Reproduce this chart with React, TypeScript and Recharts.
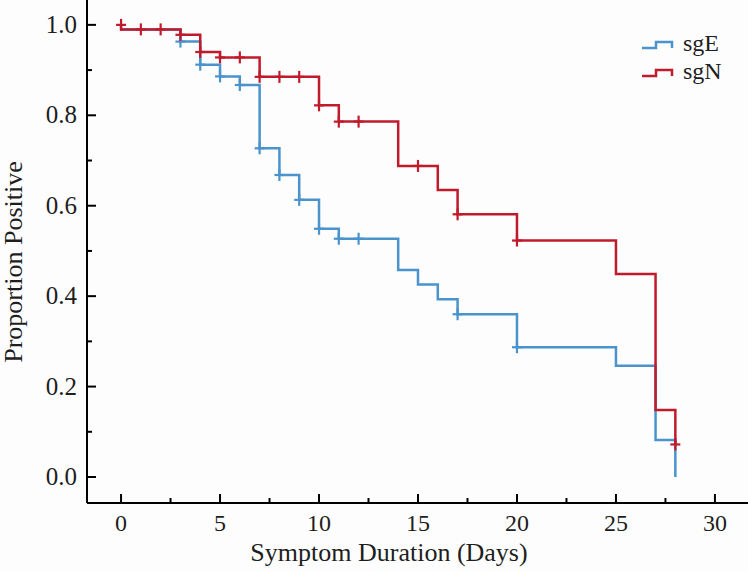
import React from 'react';
import { ComposedChart, Line, Scatter, XAxis, YAxis, Customized } from 'recharts';

const FONT = 'Liberation Serif, Times New Roman, serif';
const BLUE = '#4a93cc';
const RED = '#c01b2c';
const TEXT = '#1e1e1e';

// Kaplan–Meier step curves (time in days, proportion positive)
const sgETimes = [0, 3, 4, 5, 6, 7, 8, 9, 10, 11, 14, 15, 16, 17, 20, 25, 27, 28];
const sgEValues = [0.99, 0.963, 0.912, 0.886, 0.867, 0.727, 0.668, 0.613, 0.549, 0.527, 0.458, 0.426, 0.393, 0.36, 0.287, 0.246, 0.082, 0.0];
const sgNTimes = [0, 0, 3, 4, 5, 7, 10, 11, 14, 16, 17, 20, 25, 27, 28];
const sgNValues = [1.0, 0.99, 0.978, 0.94, 0.928, 0.885, 0.822, 0.786, 0.688, 0.635, 0.581, 0.523, 0.449, 0.148, 0.072];

// Censor marks
const sgECensorTimes = [3, 4, 5, 6, 7, 8, 9, 10, 11, 12, 17, 20];
const sgECensorValues = [0.963, 0.912, 0.886, 0.867, 0.727, 0.668, 0.613, 0.549, 0.527, 0.527, 0.36, 0.287];
const sgNCensorTimes = [0, 1, 2, 3, 4, 5, 6, 7, 8, 9, 10, 11, 12, 15, 17, 20, 28];
const sgNCensorValues = [1.0, 0.99, 0.99, 0.978, 0.94, 0.928, 0.928, 0.885, 0.885, 0.885, 0.822, 0.786, 0.786, 0.688, 0.581, 0.523, 0.072];

const xMajorTicks = [0, 5, 10, 15, 20, 25, 30];
const xMinorTicks = [2.5, 7.5, 12.5, 17.5, 22.5, 27.5];
const yMajorTicks = [0, 0.2, 0.4, 0.6, 0.8, 1.0];
const yMinorTicks = [0.1, 0.3, 0.5, 0.7, 0.9];

const seriesNames = ['sgE', 'sgN'];
const xTitle = 'Symptom Duration (Days)';
const yTitle = 'Proportion Positive';

const zip = (xs: number[], ys: number[]) => xs.map((x, i) => ({ x, y: ys[i] }));
const sgE = zip(sgETimes, sgEValues);
const sgN = zip(sgNTimes, sgNValues);
const sgECensor = zip(sgECensorTimes, sgECensorValues);
const sgNCensor = zip(sgNCensorTimes, sgNCensorValues);

const xTicks = [...xMajorTicks, ...xMinorTicks].sort((a, b) => a - b);
const yTicks = [...yMajorTicks, ...yMinorTicks].sort((a, b) => a - b);

const XTick = (props: any) => {
  const { x, y, payload } = props;
  const v = payload.value;
  const major = xMajorTicks.includes(v);
  return (
    <g>
      <line x1={x} x2={x} y1={y} y2={y - (major ? 9 : 5)} stroke="#000" strokeWidth={2} />
      {major && (
        <text x={x} y={y + 28} textAnchor="middle" style={{ fontFamily: FONT }} fontSize={24} fill={TEXT}>
          {v}
        </text>
      )}
    </g>
  );
};

const YTick = (props: any) => {
  const { x, y, payload } = props;
  const v = payload.value;
  const major = yMajorTicks.some((t) => Math.abs(t - v) < 1e-9);
  return (
    <g>
      <line x1={x} x2={x + (major ? 9 : 5)} y1={y} y2={y} stroke="#000" strokeWidth={2} />
      {major && (
        <text x={x - 10} y={y + 8} textAnchor="end" style={{ fontFamily: FONT }} fontSize={25} fill={TEXT}>
          {v.toFixed(1)}
        </text>
      )}
    </g>
  );
};

const makePlus = (color: string) => (p: any) => {
  const { cx, cy } = p;
  if (cx == null || cy == null) return <g />;
  return (
    <g>
      <line x1={cx - 5} x2={cx + 5} y1={cy} y2={cy} stroke={color} strokeWidth={2.2} />
      <line x1={cx} x2={cx} y1={cy - 6} y2={cy + 6} stroke={color} strokeWidth={2.2} />
    </g>
  );
};

const LegendLayer = () => (
  <g>
    <path d="M642,48H656V42H672V48" fill="none" stroke={BLUE} strokeWidth={2.5} />
    <text x={683} y={51} style={{ fontFamily: FONT }} fontSize={24} fill={TEXT}>{seriesNames[0]}</text>
    <path d="M642,76H656V70H672V76" fill="none" stroke={RED} strokeWidth={2.5} />
    <text x={683} y={79} style={{ fontFamily: FONT }} fontSize={24} fill={TEXT}>{seriesNames[1]}</text>
  </g>
);

export default function App() {
  return (
    <div style={{ position: 'absolute', left: 0, top: 0, width: 748, height: 572, background: '#fdfdfd' }}>
      <ComposedChart width={748} height={572} margin={{ top: 0, right: 0, bottom: 0, left: 0 }}>
        <XAxis
          type="number"
          dataKey="x"
          domain={[-1.72, 31.67]}
          allowDataOverflow
          ticks={xTicks}
          interval={0}
          tick={<XTick />}
          tickLine={false}
          tickSize={0}
          tickMargin={0}
          height={69}
          axisLine={{ stroke: '#000', strokeWidth: 2 }}
          label={{
            content: (p: any) => {
              const vb = p.viewBox;
              return (
                <text x={vb.x + 302} y={vb.y + 58} textAnchor="middle" style={{ fontFamily: FONT }} fontSize={26} fill={TEXT}>
                  {xTitle}
                </text>
              );
            },
          }}
        />
        <YAxis
          type="number"
          dataKey="y"
          domain={[-0.0575, 1.055]}
          allowDataOverflow
          ticks={yTicks}
          interval={0}
          tick={<YTick />}
          tickLine={false}
          tickSize={0}
          tickMargin={0}
          width={87}
          axisLine={{ stroke: '#000', strokeWidth: 2 }}
          label={{
            content: () => (
              <text
                x={22}
                y={262}
                textAnchor="middle"
                transform="rotate(-90 22 262)"
                style={{ fontFamily: FONT }}
                fontSize={26}
                fill={TEXT}
              >
                {yTitle}
              </text>
            ),
          }}
        />
        <Line data={sgE} dataKey="y" type="stepAfter" stroke={BLUE} strokeWidth={2.5} dot={false} activeDot={false} isAnimationActive={false} />
        <Line data={sgN} dataKey="y" type="stepAfter" stroke={RED} strokeWidth={2.5} dot={false} activeDot={false} isAnimationActive={false} />
        <Scatter data={sgECensor} dataKey="y" shape={makePlus(BLUE)} isAnimationActive={false} />
        <Scatter data={sgNCensor} dataKey="y" shape={makePlus(RED)} isAnimationActive={false} />
        <Customized component={LegendLayer} />
      </ComposedChart>
    </div>
  );
}
